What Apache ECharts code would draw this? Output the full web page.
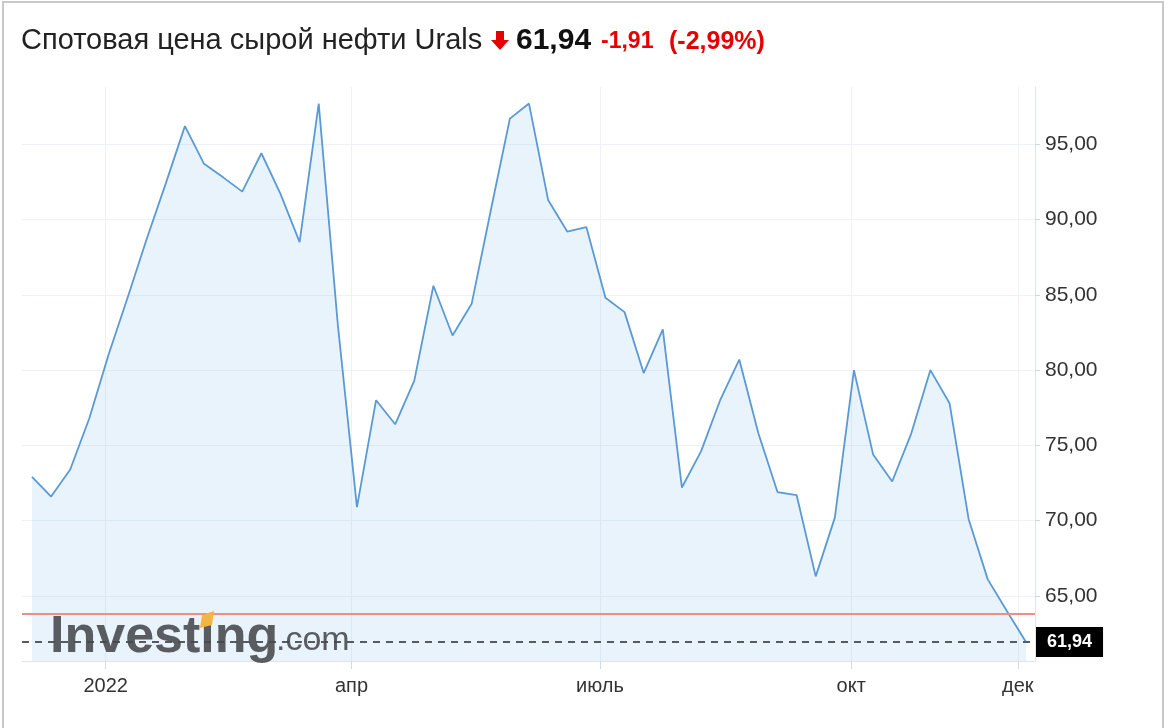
<!DOCTYPE html>
<html><head><meta charset="utf-8">
<script src="https://cdn.jsdelivr.net/npm/echarts@6/dist/echarts.min.js"></script>
<style>
html,body{margin:0;padding:0;background:#fff;overflow:hidden;}
#frame{position:absolute;left:2px;top:1px;width:1158px;height:760px;border:2px solid #c9c9c9;}
#chart{position:absolute;left:0;top:0;width:1170px;height:728px;}
</style></head><body>
<div id="frame"></div>
<div id="chart"></div>
<script>
// ---- data ----
const dates = ['2021-12-05','2021-12-12','2021-12-19','2021-12-26',
  '2022-01-02','2022-01-09','2022-01-16','2022-01-23','2022-01-30',
  '2022-02-06','2022-02-13','2022-02-20','2022-02-27',
  '2022-03-06','2022-03-13','2022-03-20','2022-03-27',
  '2022-04-03','2022-04-10','2022-04-17','2022-04-24',
  '2022-05-01','2022-05-08','2022-05-15','2022-05-22','2022-05-29',
  '2022-06-05','2022-06-12','2022-06-19','2022-06-26',
  '2022-07-03','2022-07-10','2022-07-17','2022-07-24','2022-07-31',
  '2022-08-07','2022-08-14','2022-08-21','2022-08-28',
  '2022-09-04','2022-09-11','2022-09-18','2022-09-25',
  '2022-10-02','2022-10-09','2022-10-16','2022-10-23','2022-10-30',
  '2022-11-06','2022-11-13','2022-11-20','2022-11-27',
  '2022-12-04'];
const prices = [72.9, 71.6, 73.4, 76.8,
  81.0, 84.8, 88.7, 92.4, 96.2,
  93.7, 92.8, 91.85, 94.4,
  91.7, 88.5, 97.7, 83.0,
  70.9, 78.0, 76.4, 79.3,
  85.6, 82.3, 84.4, 90.6, 96.7,
  97.7, 91.3, 89.2, 89.5,
  84.8, 83.85, 79.8, 82.7, 72.2,
  74.6, 78.0, 80.7, 75.8,
  71.9, 71.7, 66.3, 70.2,
  80.0, 74.4, 72.6, 75.8, 80.0,
  77.8, 70.1, 66.1, 64.0,
  61.94];
const yTickValues = [65, 70, 75, 80, 85, 90, 95];
const xTickDates = ['2022-01-01','2022-04-01','2022-07-01','2022-10-01','2022-12-01'];
const xTickLabels = ['2022','апр','июль','окт','дек'];
const lastPrice = 61.94;
const prevClose = 63.85;
const titleText = 'Спотовая цена сырой нефти Urals';
const lastText = '61,94';
const changeText = '-1,91';
const changePctText = '(-2,99%)';

// ---- build ----
const DAY = 86400000;
const ts = s => Date.UTC(+s.slice(0,4), +s.slice(5,7) - 1, +s.slice(8,10));
const xTickTimes = xTickDates.map(ts);
const tMin = ts(dates[0]) - 3.66 * DAY;
const tMax = ts(dates[dates.length - 1]) + 3.3 * DAY;
const fmtNum = v => v.toFixed(2).replace('.', ',');
const FONT = "'Liberation Sans', Arial, sans-serif";

const chart = echarts.init(document.getElementById('chart'), null, {renderer: 'canvas'});
chart.setOption({
  animation: false,
  backgroundColor: 'transparent',
  grid: {left: 22, right: 135, top: 87, bottom: 67},
  xAxis: {
    type: 'value', min: tMin, max: tMax,
    axisLine: {show: true, lineStyle: {color: '#dce5ed', width: 1}},
    axisTick: {show: true, customValues: xTickTimes, length: 8, lineStyle: {color: '#d3dbe3'}},
    axisLabel: {
      customValues: xTickTimes, color: '#333', fontSize: 20, fontFamily: FONT, margin: 15,
      formatter: v => { const i = xTickTimes.indexOf(v); return i >= 0 ? xTickLabels[i] : ''; }
    },
    splitLine: {show: true, lineStyle: {color: '#eef2f6', width: 1}}
  },
  yAxis: {
    type: 'value', position: 'right', min: 60.68, max: 98.8,
    axisLine: {show: true, lineStyle: {color: '#dce5ed', width: 1}},
    axisTick: {show: true, customValues: yTickValues, length: 5, lineStyle: {color: '#cfd8e0'}},
    axisLabel: {customValues: yTickValues, color: '#333', fontSize: 21, fontFamily: FONT, margin: 10, formatter: fmtNum},
    splitLine: {show: true, lineStyle: {color: '#eef2f6', width: 1}}
  },
  series: [{
    type: 'line',
    data: dates.map((d, i) => [ts(d), prices[i]]),
    symbol: 'none',
    lineStyle: {color: '#5a9ad4', width: 1.8},
    areaStyle: {color: 'rgba(120,180,230,0.23)', origin: 'start'},
    z: 2,
    markLine: {
      silent: true, symbol: 'none', animation: false,
      data: [
        {yAxis: prevClose, lineStyle: {color: '#f28b8b', width: 2, type: 'solid'}, label: {show: false}},
        {yAxis: lastPrice, lineStyle: {color: '#555b60', width: 2, type: [7, 6]},
         label: {show: true, position: 'end', distance: 1, formatter: lastText,
           backgroundColor: '#000', color: '#fff', fontWeight: 'bold', fontSize: 18, fontFamily: FONT,
           lineHeight: 18, padding: [6, 11]}}
      ]
    }
  }],
  graphic: [
    {type: 'text', x: 21, y: 41, style: {text: titleText, fill: '#222', fontSize: 29, fontFamily: FONT, verticalAlign: 'middle'}},
    {type: 'polygon', shape: {points: [[496,31],[504,31],[504,40],[509,40],[500,50],[491,40],[496,40]]}, style: {fill: '#e60000'}},
    {type: 'text', x: 516, y: 41, style: {text: lastText, fill: '#111', fontSize: 30, fontWeight: 'bold', fontFamily: FONT, verticalAlign: 'middle'}},
    {type: 'text', x: 601, y: 42, style: {text: changeText, fill: '#e60000', fontSize: 23, fontWeight: 'bold', fontFamily: FONT, verticalAlign: 'middle'}},
    {type: 'text', x: 669, y: 42, style: {text: changePctText, fill: '#e60000', fontSize: 25, fontWeight: 'bold', fontFamily: FONT, verticalAlign: 'middle'}},
    {type: 'text', x: 50, y: 612, z: 10, style: {text: 'Investing', fill: 'rgba(70,72,75,0.88)', fontSize: 52, fontWeight: 'bold', fontFamily: FONT, verticalAlign: 'top'}},
    {type: 'text', x: 276, y: 624, z: 10, style: {text: '.com', fill: 'rgba(70,72,75,0.88)', fontSize: 34, fontFamily: FONT, verticalAlign: 'top'}},
    {type: 'polygon', z: 11, shape: {points: [[202,615],[214,611],[212,625],[200,628]]}, style: {fill: '#f6b443'}}
  ]
});
</script>
</body></html>
